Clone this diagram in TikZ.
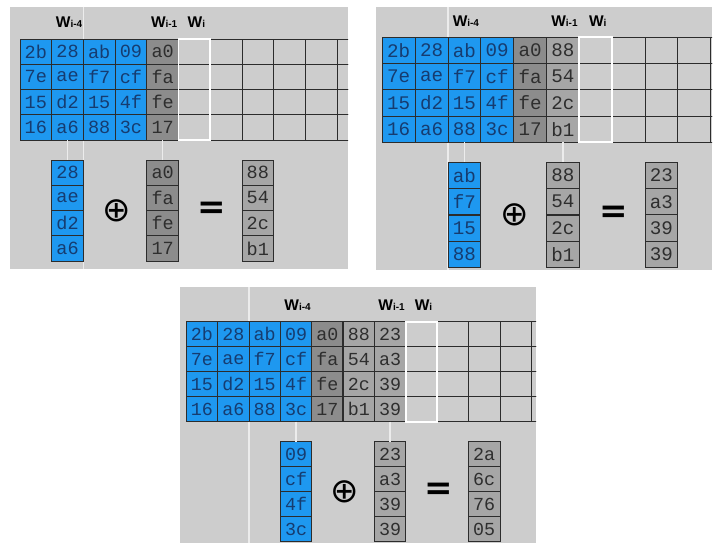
\documentclass[tikz,border=0pt]{standalone}
\usepackage{fontspec}
\newfontfamily\hexfont{Liberation Mono}
\newfontfamily\labfont{Liberation Sans}
\newfontfamily\symfont{DejaVu Sans}
\definecolor{panelbg}{HTML}{CDCDCD}
\definecolor{keyblue}{HTML}{1E98F0}
\definecolor{cdark}{HTML}{8C8C8C}
\definecolor{clight}{HTML}{A6A6A6}
\definecolor{bluetext}{HTML}{163C70}
\definecolor{graytext}{HTML}{2E2E2E}
\definecolor{gridline}{HTML}{2C2C2C}
\definecolor{faint}{HTML}{ECECEC}

\newcommand\setcol[5]{%
 \expandafter\def\csname hx#1-0\endcsname{#2}%
 \expandafter\def\csname hx#1-1\endcsname{#3}%
 \expandafter\def\csname hx#1-2\endcsname{#4}%
 \expandafter\def\csname hx#1-3\endcsname{#5}}
\setcol{0}{2b}{7e}{15}{16}
\setcol{1}{28}{ae}{d2}{a6}
\setcol{2}{ab}{f7}{15}{88}
\setcol{3}{09}{cf}{4f}{3c}
\setcol{4}{a0}{fa}{fe}{17}
\setcol{5}{88}{54}{2c}{b1}
\setcol{6}{23}{a3}{39}{39}
\setcol{7}{2a}{6c}{76}{05}

\newcommand\wlab[1]{{\fontsize{15.5}{15.5}\selectfont W}{\fontsize{10}{10}\selectfont #1}}

\tikzset{
 cellbox/.style={draw=gridline, line width=0.8pt, inner sep=0pt, outer sep=0pt, anchor=center},
 bluecell/.style={cellbox, fill=keyblue, text=bluetext},
 darkcell/.style={cellbox, fill=cdark, text=graytext},
 lightcell/.style={cellbox, fill=clight, text=graytext},
 emptycell/.style={draw=gridline, line width=0.8pt},
 faintline/.style={draw=faint, line width=1.3pt},
 wibox/.style={draw=white, line width=1.8pt},
 sepline/.style={draw=gridline, line width=1.6pt},
 wlabel/.style={anchor=base, inner sep=0pt, text=black, font=\labfont\bfseries},
 opsym/.style={inner sep=0pt, text=black, font=\symfont\fontsize{34}{34}\selectfont},
 eqsym/.style={inner sep=0pt, text=black, font=\symfont\bfseries\fontsize{34}{34}\selectfont},
}

% #1 step k, #2-#5 panel L T R B, #6 grid left, #7 grid top, #8 col width, #9 row height
\newcommand\drawpanel[9]{%
 \pgfmathsetmacro\pFs{#8*0.585}%
 \pgfmathtruncatemacro\pGA{#1+3}%
 \pgfmathtruncatemacro\pGB{#1+4}%
 \pgfmathtruncatemacro\pGC{#1+6}%
 \pgfmathsetmacro\pLt{#7+4*#9+20}%
 \ifnum#1=1 \tikzset{lowgray/.style={darkcell}}\else\tikzset{lowgray/.style={lightcell}}\fi
 \tikzset{cellsize/.style={minimum width=#8pt, minimum height=#9pt, font=\hexfont\fontsize{\pFs}{\pFs}\selectfont}}%
 \fill[panelbg] (#2,#3) rectangle (#4,#5);
 \begin{scope}
 \clip (#2,#3) rectangle (#4,#5);
 \draw[faintline] (#6+2*#8,#3) -- (#6+2*#8,#5);
 % empty part of the key schedule
 \foreach \cc in {\pGB,...,11} {\foreach \rr in {0,...,3} {
   \draw[emptycell] (#6+\cc*#8,#7+\rr*#9) rectangle ++(#8,#9);}}
 % cipher key (blue)
 \foreach \cc in {0,...,3} {\foreach \rr in {0,...,3} {
   \node[bluecell, cellsize] (p#1-\cc-\rr) at (#6+\cc*#8+0.5*#8, #7+\rr*#9+0.5*#9) {\csname hx\cc-\rr\endcsname};}}
 % first computed word (dark)
 \foreach \rr in {0,...,3} {
   \node[darkcell, cellsize] (p#1-4-\rr) at (#6+4.5*#8, #7+\rr*#9+0.5*#9) {\csname hx4-\rr\endcsname};}
 % later words (light)
 \ifnum#1>1
 \foreach \cc in {5,...,\pGA} {\foreach \rr in {0,...,3} {
   \node[lightcell, cellsize] (p#1-\cc-\rr) at (#6+\cc*#8+0.5*#8, #7+\rr*#9+0.5*#9) {\csname hx\cc-\rr\endcsname};}}
 \draw[sepline] (#6+5*#8,#7) -- ++(0,4*#9);
 \fi
 % white box W_i
 \draw[wibox] (#6+\pGB*#8,#7) rectangle ++(#8,4*#9);
 % labels
 \node[wlabel] (p#1-la) at (#6+#1*#8+0.5*#8+1.5, #7-11) {\wlab{i-4}};
 \node[wlabel] (p#1-lb) at (#6+\pGA*#8+0.5*#8+1.5, #7-11) {\wlab{i-1}};
 \node[wlabel] (p#1-lc) at (#6+\pGB*#8+0.5*#8+2, #7-11) {\wlab{i}};
 % lower equation
 \foreach \rr in {0,...,3} {
   \node[bluecell, cellsize] (p#1-xb-\rr) at (#6+#1*#8+0.5*#8, \pLt+\rr*#9+0.5*#9) {\csname hx#1-\rr\endcsname};
   \node[lowgray, cellsize] (p#1-xg-\rr) at (#6+\pGA*#8+0.5*#8, \pLt+\rr*#9+0.5*#9) {\csname hx\pGA-\rr\endcsname};
   \node[lightcell, cellsize] (p#1-xr-\rr) at (#6+\pGC*#8+0.5*#8, \pLt+\rr*#9+0.5*#9) {\csname hx\pGB-\rr\endcsname};}
 \draw[sepline, line width=1.4pt] (p#1-xb-1.south west) -- (p#1-xb-1.south east);
 \draw[sepline, line width=1.4pt] (p#1-xg-1.south west) -- (p#1-xg-1.south east);
 \node[opsym] (p#1-plus) at (#6+#1*#8+2*#8+1.5, \pLt+2*#9) {⊕};
 \node[eqsym] (p#1-eq) at (#6+#1*#8+5*#8+2, \pLt+2*#9) {=};
 % connectors
 \draw[faintline] (p#1-#1-3.south) -- (p#1-xb-0.north);
 \draw[faintline] (p#1-\pGA-3.south) -- (p#1-xg-0.north);
 \end{scope}
}

\begin{document}
\begin{tikzpicture}[x=1pt,y=-1pt]
\useasboundingbox (0,0) rectangle (726,543);
\fill[white] (0,0) rectangle (726,543);
\drawpanel{1}{10}{7}{348}{269}{20}{39}{31.7}{25.25}
\drawpanel{2}{376}{7}{712}{270}{382.3}{37.3}{32.84}{26.25}
\drawpanel{3}{180}{287}{536}{543}{186.3}{321.7}{31.36}{25}
\end{tikzpicture}
\end{document}
